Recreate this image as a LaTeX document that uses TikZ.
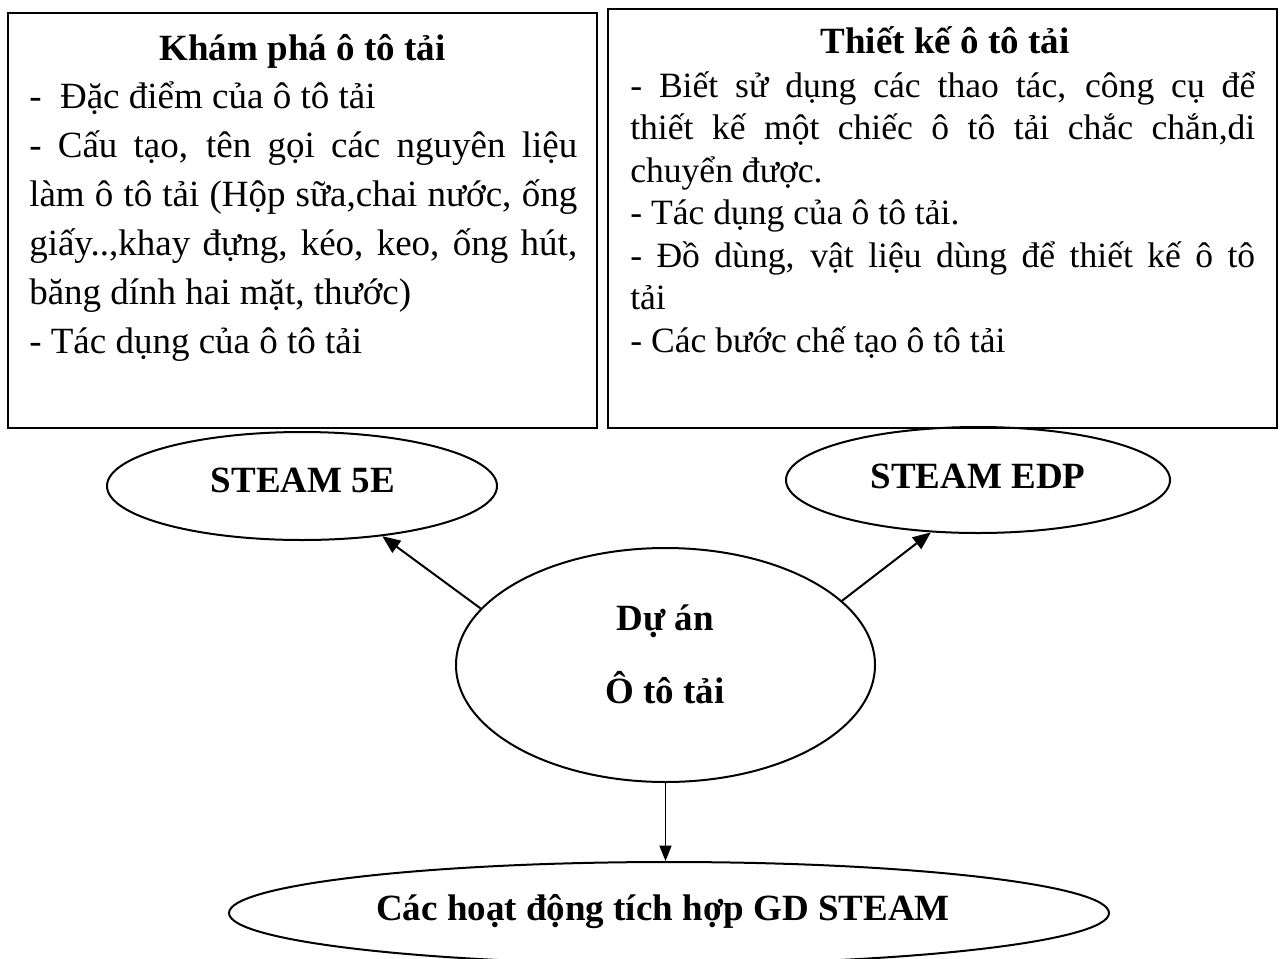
\documentclass[tikz,border=0pt]{standalone}
\usepackage{fontspec}
\setmainfont{Liberation Serif}
\usetikzlibrary{shapes.geometric,arrows.meta}
\newcommand{\parsetup}{\parindent=0pt\relax\hyphenpenalty=10000\relax\exhyphenpenalty=10000\relax\tolerance=10000\relax}
\begin{document}
\begin{tikzpicture}[x=0.75pt,y=-0.75pt,
  box/.style={draw,line width=2pt,rectangle,inner sep=0pt},
  oval/.style={draw,line width=1.5pt,ellipse,inner sep=0pt},
  ttl/.style={font=\bfseries\fontsize{27.75pt}{33pt}\selectfont,inner sep=0pt,anchor=base},
  bodytxt/.style={inner sep=0pt,anchor=north west,align=justify},
  arr/.style={-{Triangle[length=13.5pt,width=11pt]},line width=1.5pt},
  arrthin/.style={-{Triangle[length=11.5pt,width=9pt]},line width=1.1pt}]
\useasboundingbox (0,0) rectangle (1283,958);
% boxes
\node[box,minimum width=441.75pt,minimum height=311.25pt] (boxL) at (302.5,220.5) {};
\node[box,minimum width=501.75pt,minimum height=314.25pt] (boxR) at (942.5,218.5) {};
\node[ttl] (ttlL) at (302.5,60) {Khám phá ô tô tải};
\node[ttl] (ttlR) at (945,53) {Thiết kế ô tô tải};
\node[bodytxt,text width=411pt,font=\fontsize{27.75pt}{36.75pt}\selectfont] (txtL) at (29,68)
{\parsetup\rule{0pt}{30pt}-~ Đặc điểm của ô tô tải\par
- Cấu tạo, tên gọi các nguyên liệu\linebreak
làm ô tô tải (Hộp sữa,chai nước, ống\linebreak
giấy..,khay đựng, kéo, keo, ống hút,\linebreak
băng dính hai mặt, thước)\par
- Tác dụng của ô tô tải};
\node[bodytxt,text width=468.75pt,font=\fontsize{26.7pt}{31.875pt}\selectfont] (txtR) at (630,57)
{\parsetup\rule{0pt}{30pt}- Biết sử dụng các thao tác, công cụ để\linebreak
thiết kế một chiếc ô tô tải chắc chắn,di\linebreak
chuyển được.\par
- Tác dụng của ô tô tải.\par
- Đồ dùng, vật liệu dùng để thiết kế ô tô\linebreak
tải\par
- Các bước chế tạo ô tô tải};
% ellipses
\node[oval,minimum width=292.5pt,minimum height=81pt] (e5E) at (302,486) {};
\node[oval,minimum width=288pt,minimum height=79.5pt] (eEDP) at (978,480) {};
\node[oval,minimum width=314.25pt,minimum height=175.5pt] (mid) at (665.5,665) {};
\node[oval,minimum width=660pt,minimum height=76.5pt] (bot) at (669,913) {};
\node[ttl] (t5E) at (303,492) {STEAM 5E};
\node[ttl] (tEDP) at (978,488) {STEAM EDP};
\node[ttl] (tmid1) at (665,630) {Dự án};
\node[ttl] (tmid2) at (665,703) {Ô tô tải};
\node[ttl] (tbot) at (663,920) {Các hoạt động tích hợp GD STEAM};
% arrows
\draw[arr] (mid.163) -- (e5E.328.5);
\draw[arr] (mid.20.5) -- (eEDP.228.7);
\draw[arrthin] (mid.south) -- (mid.south |- bot.north);
\end{tikzpicture}
\end{document}
